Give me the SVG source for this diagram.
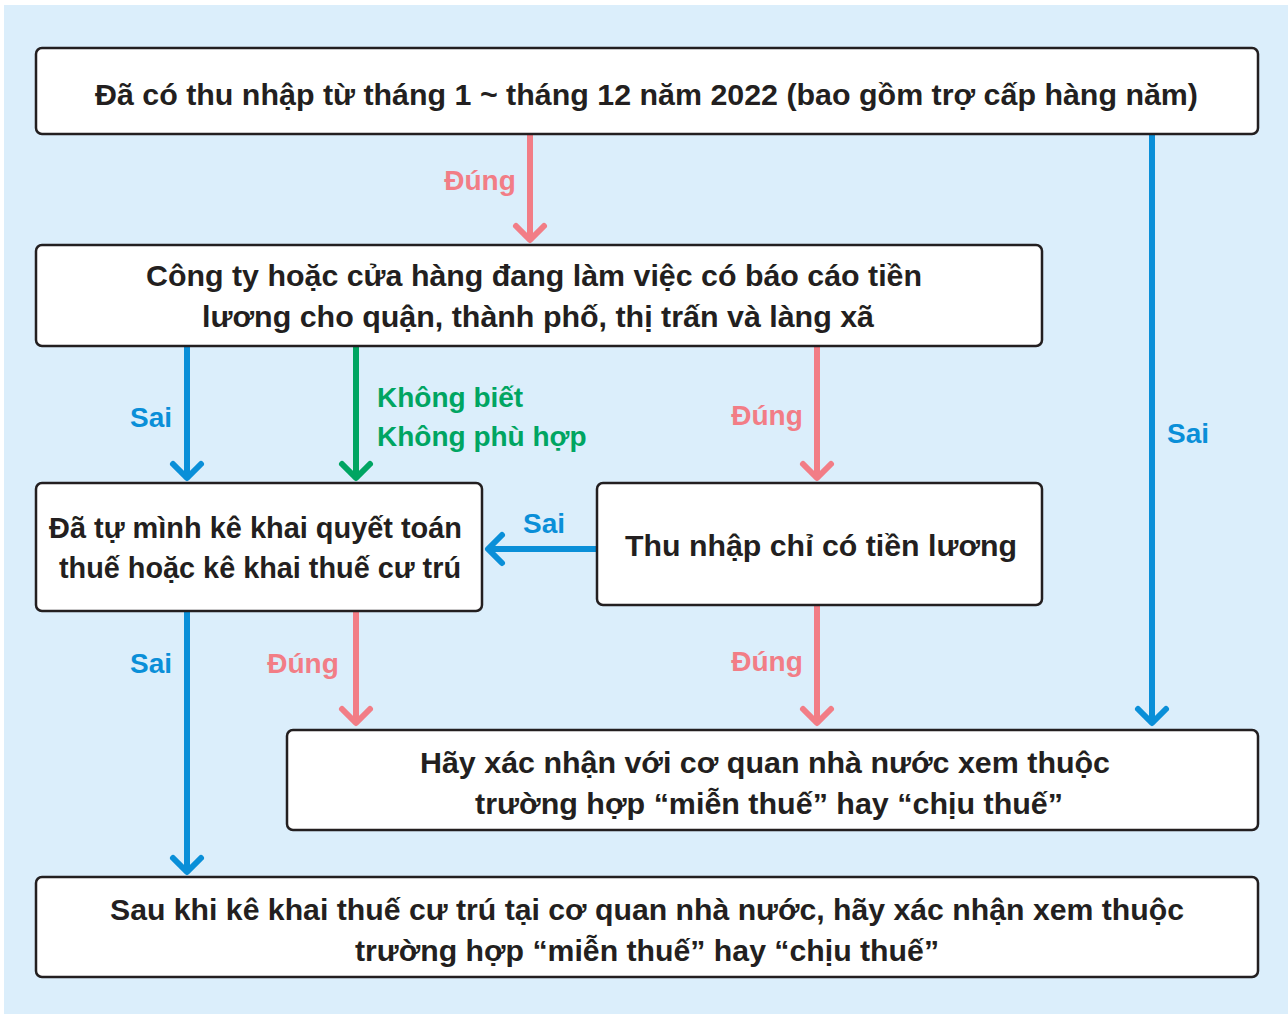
<svg xmlns="http://www.w3.org/2000/svg" width="1288" height="1014" viewBox="0 0 1288 1014">
<style>
.box{fill:#fff;stroke:#231f20;stroke-width:2.5}
.t{font-family:"Liberation Sans",Arial,sans-serif;font-weight:bold;font-size:30px;fill:#231f20;text-anchor:middle}
.l{font-family:"Liberation Sans",Arial,sans-serif;font-weight:bold;font-size:28px}
.pk{stroke:#f27d86;fill:none;stroke-width:6;stroke-linecap:round;stroke-linejoin:round}
.bl{stroke:#0a8fd8;fill:none;stroke-width:6;stroke-linecap:round;stroke-linejoin:round}
.gr{stroke:#00a562;fill:none;stroke-width:6;stroke-linecap:round;stroke-linejoin:round}
.lpk{fill:#f27d86}.lbl{fill:#0a8fd8}.lgr{fill:#00a562}
</style>
<rect x="0" y="0" width="1288" height="1014" fill="#fff"/>
<rect x="4" y="5" width="1284" height="1009" fill="#dbeefb"/>
<g id="connectors">
<path class="pk" d="M530 134V238"/><path class="pk" d="M516 226L530 240L544 226"/>
<text class="l lpk" x="480" y="190" text-anchor="middle">Đúng</text>
<path class="bl" d="M1152 134V721"/><path class="bl" d="M1138 709L1152 723L1166 709"/>
<text class="l lbl" x="1188" y="443" text-anchor="middle">Sai</text>
<path class="bl" d="M187 346V476"/><path class="bl" d="M173 464L187 478L201 464"/>
<text class="l lbl" x="151" y="427" text-anchor="middle">Sai</text>
<path class="gr" d="M356 346V476"/><path class="gr" d="M342 464L356 478L370 464"/>
<text class="l lgr" x="377" y="407">Không biết</text>
<text class="l lgr" x="377" y="446">Không phù hợp</text>
<path class="pk" d="M817 346V476"/><path class="pk" d="M803 464L817 478L831 464"/>
<text class="l lpk" x="767" y="425" text-anchor="middle">Đúng</text>
<path class="bl" d="M597 549H490"/><path class="bl" d="M502 535L488 549L502 563"/>
<text class="l lbl" x="544" y="533" text-anchor="middle">Sai</text>
<path class="bl" d="M187 611V870"/><path class="bl" d="M173 858L187 872L201 858"/>
<text class="l lbl" x="151" y="673" text-anchor="middle">Sai</text>
<path class="pk" d="M356 611V721"/><path class="pk" d="M342 709L356 723L370 709"/>
<text class="l lpk" x="303" y="673" text-anchor="middle">Đúng</text>
<path class="pk" d="M817 605V721"/><path class="pk" d="M803 709L817 723L831 709"/>
<text class="l lpk" x="767" y="671" text-anchor="middle">Đúng</text>
</g>
<g id="n1"><rect class="box" x="36" y="48" width="1222" height="86" rx="6"/>
<text class="t" x="646.5" y="105" textLength="1103" lengthAdjust="spacingAndGlyphs">Đã có thu nhập từ tháng 1 ~ tháng 12 năm 2022 (bao gồm trợ cấp hàng năm)</text></g>
<g id="n2"><rect class="box" x="36" y="245" width="1006" height="101" rx="6"/>
<text class="t" x="534" y="286" textLength="776" lengthAdjust="spacingAndGlyphs">Công ty hoặc cửa hàng đang làm việc có báo cáo tiền</text>
<text class="t" x="538" y="327" textLength="672" lengthAdjust="spacingAndGlyphs">lương cho quận, thành phố, thị trấn và làng xã</text></g>
<g id="n3"><rect class="box" x="36" y="483" width="446" height="128" rx="6"/>
<text class="t" x="255.5" y="538" textLength="413" lengthAdjust="spacingAndGlyphs">Đã tự mình kê khai quyết toán</text>
<text class="t" x="260" y="578" textLength="402" lengthAdjust="spacingAndGlyphs">thuế hoặc kê khai thuế cư trú</text></g>
<g id="n4"><rect class="box" x="597" y="483" width="445" height="122" rx="6"/>
<text class="t" x="821" y="556" textLength="392" lengthAdjust="spacingAndGlyphs">Thu nhập chỉ có tiền lương</text></g>
<g id="n5"><rect class="box" x="287" y="730" width="971" height="100" rx="6"/>
<text class="t" x="765" y="773" textLength="690" lengthAdjust="spacingAndGlyphs">Hãy xác nhận với cơ quan nhà nước xem thuộc</text>
<text class="t" x="769" y="814" textLength="588" lengthAdjust="spacingAndGlyphs">trường hợp “miễn thuế” hay “chịu thuế”</text></g>
<g id="n6"><rect class="box" x="36" y="877" width="1222" height="100" rx="6"/>
<text class="t" x="647" y="920" textLength="1074" lengthAdjust="spacingAndGlyphs">Sau khi kê khai thuế cư trú tại cơ quan nhà nước, hãy xác nhận xem thuộc</text>
<text class="t" x="647" y="961" textLength="584" lengthAdjust="spacingAndGlyphs">trường hợp “miễn thuế” hay “chịu thuế”</text></g>
</svg>
